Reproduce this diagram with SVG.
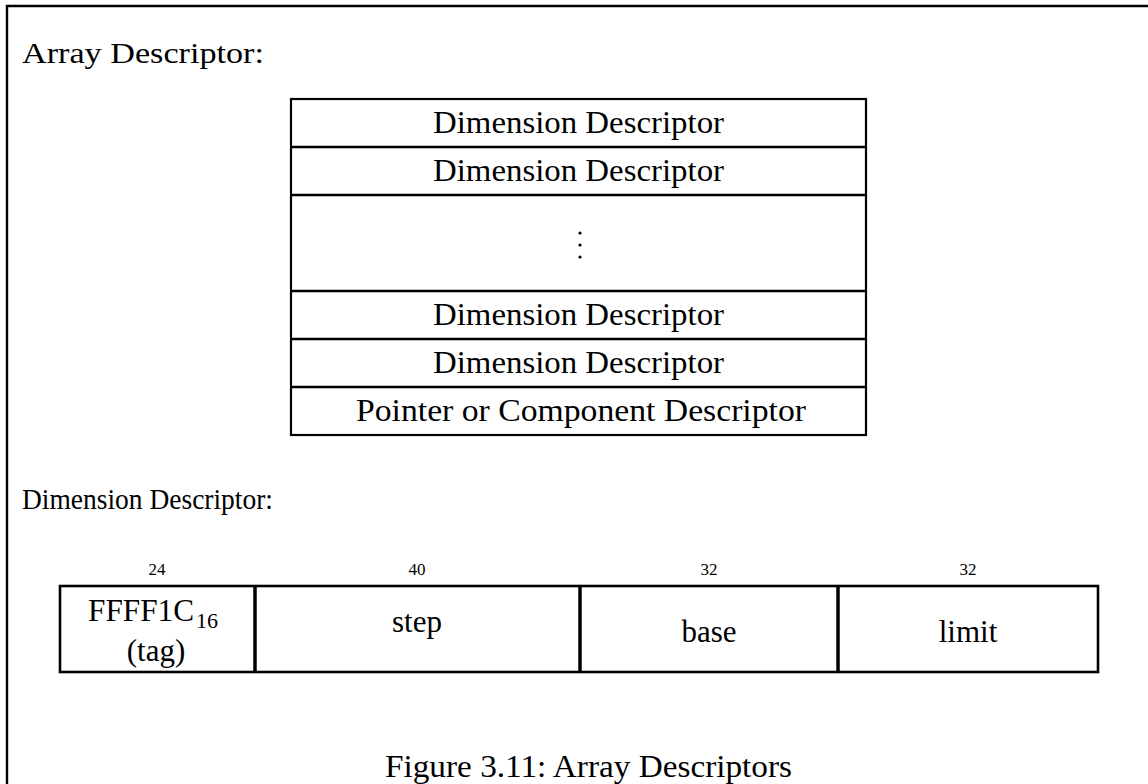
<svg xmlns="http://www.w3.org/2000/svg" width="1148" height="784" viewBox="0 0 1148 784">
<style>
text{font-family:"Liberation Serif","Times New Roman",serif;fill:#000}
.t{font-size:31px}
.h{font-size:29px}
.s{font-size:17px}
.c{text-anchor:middle}
.box{fill:#fff;stroke:#000;stroke-width:2.2}
.div{stroke:#000;stroke-width:3.5}
.row{stroke:#000;stroke-width:2.6}
.frame{fill:none;stroke:#000;stroke-width:2.4}
</style>
<rect width="1148" height="784" fill="#fff"/>
<path class="frame" d="M7,784 V6 H1148"/>
<text class="h" x="22" y="63" textLength="242" lengthAdjust="spacingAndGlyphs">Array Descriptor:</text>
<g id="array-descriptor">
<rect class="box" x="291" y="99" width="575" height="336"/>
<g id="row1"><line class="row" x1="291" y1="147" x2="866" y2="147"/><text class="t c" x="578.5" y="133" textLength="291" lengthAdjust="spacingAndGlyphs">Dimension Descriptor</text></g>
<g id="row2"><line class="row" x1="291" y1="195" x2="866" y2="195"/><text class="t c" x="578.5" y="181" textLength="291" lengthAdjust="spacingAndGlyphs">Dimension Descriptor</text></g>
<g id="row-dots"><line class="row" x1="291" y1="291" x2="866" y2="291"/>
<circle cx="580" cy="233" r="1.6"/><circle cx="580" cy="245" r="1.6"/><circle cx="580" cy="257" r="1.6"/></g>
<g id="row3"><line class="row" x1="291" y1="339" x2="866" y2="339"/><text class="t c" x="578.5" y="325" textLength="291" lengthAdjust="spacingAndGlyphs">Dimension Descriptor</text></g>
<g id="row4"><line class="row" x1="291" y1="387" x2="866" y2="387"/><text class="t c" x="578.5" y="373" textLength="291" lengthAdjust="spacingAndGlyphs">Dimension Descriptor</text></g>
<g id="row5"><text class="t c" x="581" y="421" textLength="450" lengthAdjust="spacingAndGlyphs">Pointer or Component Descriptor</text></g>
</g>
<text class="h" x="22" y="509" textLength="251" lengthAdjust="spacingAndGlyphs">Dimension Descriptor:</text>
<g id="dimension-descriptor">
<rect class="box" x="60" y="586" width="1038" height="86" style="stroke-width:2.6"/>
<line class="div" x1="255" y1="586" x2="255" y2="672"/>
<line class="div" x1="580" y1="586" x2="580" y2="672"/>
<line class="div" x1="838" y1="586" x2="838" y2="672"/>
<g id="f-tag"><text class="s c" x="157" y="575">24</text>
<text class="t" x="88" y="621" textLength="106" lengthAdjust="spacingAndGlyphs">FFFF1C</text><text x="196" y="628" style="font-size:22px">16</text>
<text class="t c" x="156" y="661">(tag)</text></g>
<g id="f-step"><text class="s c" x="417" y="575">40</text><text class="t c" x="417" y="632">step</text></g>
<g id="f-base"><text class="s c" x="709" y="575">32</text><text class="t c" x="709" y="642">base</text></g>
<g id="f-limit"><text class="s c" x="968" y="575">32</text><text class="t c" x="968" y="642">limit</text></g>
</g>
<text class="t c" x="588.5" y="777" textLength="407" lengthAdjust="spacingAndGlyphs">Figure 3.11: Array Descriptors</text>
</svg>
